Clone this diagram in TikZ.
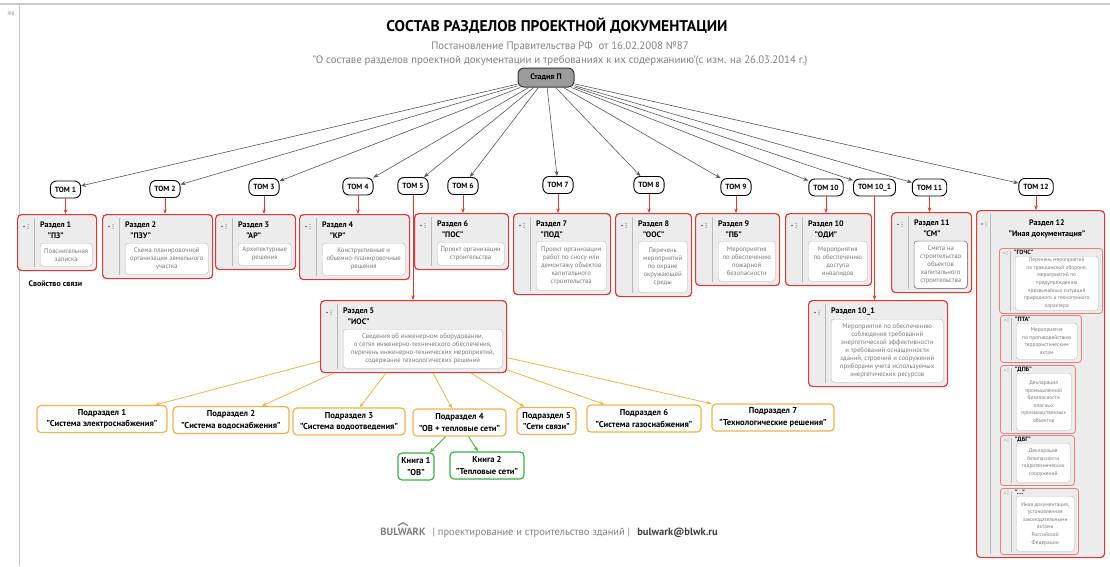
\documentclass[tikz,border=0pt]{standalone}
\usepackage{fontspec}
\setmainfont{PT Sans}
\usepackage{tikz}
\usetikzlibrary{arrows.meta, positioning}
\definecolor{razRed}{RGB}{224,54,54}
\definecolor{razFill}{RGB}{236,236,236}
\definecolor{podOrange}{RGB}{242,178,76}
\definecolor{knGreen}{RGB}{56,178,64}
\definecolor{arrGray}{RGB}{85,85,85}
\definecolor{descGray}{RGB}{120,120,120}
\definecolor{stageGray}{RGB}{155,155,155}
\definecolor{frameGray}{RGB}{200,200,200}
\newcommand{\titlefont}{\bfseries\fontsize{15.5}{18}\selectfont}
\newcommand{\decreefont}{\fontsize{10.8}{12}\selectfont}
\newcommand{\tomfont}{\bfseries\fontsize{7.5}{9}\selectfont}
\newcommand{\razfont}{\bfseries\fontsize{8}{10.5}\selectfont}
\newcommand{\descfont}{\fontsize{6.7}{8}\selectfont}
\newcommand{\subfont}{\fontsize{5.4}{7.6}\selectfont}
% section box: name, left, top, width, height, desc offset, title, description
\newcommand{\razdel}[8]{%
  \node[razbox, anchor=north west, minimum width=#4, minimum height=#5] (#1) at (#2,#3) {};
  \draw[divline] ([xshift=17pt,yshift=-4pt]#1.north west) -- ([xshift=17pt,yshift=4pt]#1.south west);
  \fill[icon] ([xshift=7pt,yshift=-12.5pt]#1.north west) circle (0.9pt);
  \foreach \dy in {10.7,12.5,14.3} \fill[icon] ([xshift=11pt,yshift=-\dy]#1.north west) circle (0.5pt);
  \node[raztitle, anchor=north west] (#1t) at ([xshift=23pt,yshift=-8pt]#1.north west) {#7};
  \node[descbox, anchor=north west, minimum width=#4-27, minimum height=#5-#6-4] (#1d)
    at ([xshift=23pt,yshift=-#6]#1.north west) {#8};
}
% sub-box inside section 12: name, left, top, width, height, label, description
\newcommand{\subrazdel}[7]{%
  \node[subbox, anchor=north west, minimum width=#4, minimum height=#5] (#1) at (#2,#3) {};
  \draw[divline] ([xshift=11pt,yshift=-3pt]#1.north west) -- ([xshift=11pt,yshift=3pt]#1.south west);
  \fill[icon] ([xshift=5pt,yshift=-5pt]#1.north west) circle (0.7pt);
  \foreach \dy in {3.8,5,6.2} \fill[icon] ([xshift=8pt,yshift=-\dy]#1.north west) circle (0.4pt);
  \node[subtitle, anchor=base west] (#1t) at ([xshift=15pt,yshift=-6.5pt]#1.north west) {#6};
  \node[subdesc, anchor=north west, minimum width=#4-20, minimum height=#5-11] (#1d)
    at ([xshift=16pt,yshift=-8pt]#1.north west) {#7};
}

\begin{document}
\begin{tikzpicture}[x=1pt, y=-1pt,
    stagebox/.style={draw=black!80, line width=1pt, fill=stageGray, rounded corners=6pt,
      minimum width=56pt, minimum height=19pt, font=\razfont},
    tombox/.style={draw=black, line width=0.9pt, fill=white, rounded corners=6pt,
      minimum height=17pt, inner xsep=4.5pt, inner ysep=1pt, font=\tomfont},
    razbox/.style={draw=razRed, line width=1.2pt, fill=razFill, rounded corners=4pt, inner sep=0pt},
    subbox/.style={draw=razRed!65, line width=0.8pt, fill=razFill, rounded corners=3pt, inner sep=0pt},
    raztitle/.style={font=\razfont, align=center, inner sep=0pt},
    subtitle/.style={font=\bfseries\fontsize{6.2}{7}\selectfont, inner sep=0pt},
    descbox/.style={draw=gray!55, fill=white, rounded corners=3pt, font=\descfont,
      text=descGray, align=center, inner sep=1pt},
    subdesc/.style={draw=gray!55, fill=white, rounded corners=2.5pt, font=\subfont,
      text=descGray, align=center, inner sep=1pt},
    divline/.style={draw=gray!55, line width=0.6pt},
    icon/.style={fill=black!65},
    podbox/.style={draw=podOrange, line width=1.2pt, fill=white, rounded corners=4pt,
      align=center, minimum height=27pt, inner xsep=2pt, font=\bfseries\fontsize{8.6}{11.5}\selectfont},
    knbox/.style={podbox, draw=knGreen},
    stagearrow/.style={draw=arrGray, line width=0.6pt, -{Stealth[length=5pt,width=4pt]}},
    redarrow/.style={draw=razRed, line width=0.7pt, -{Stealth[length=4.5pt,width=3.5pt]}},
    orangearrow/.style={draw=podOrange, line width=0.8pt, -{Stealth[length=5pt,width=4pt]}},
    greenarrow/.style={draw=knGreen, line width=0.8pt, -{Stealth[length=5pt,width=4pt]}}
  ]
  \useasboundingbox (0,0) rectangle (1110,566);
  % frame
  \draw[frameGray, line width=1.5pt] (0,4) -- (1110,4);
  \draw[frameGray, line width=0.8pt] (19,4) -- (19,566);
  \node[font=\fontsize{5}{6}\selectfont, text=gray] (jpg) at (11,13) {jpg};

  % heading
  \node[font=\titlefont, anchor=base] (title) at (557,31) {СОСТАВ РАЗДЕЛОВ ПРОЕКТНОЙ ДОКУМЕНТАЦИИ};
  \node[font=\decreefont, text=gray, anchor=base] (decree) at (560,49.5)
    {Постановление Правительства РФ\ \ от 16.02.2008 №87};
  \node[font=\decreefont, text=gray, anchor=base] (decreename) at (560,63.5)
    {"О составе разделов проектной документации и требованиях к их содержаниию'(с изм. на 26.03.2014 г.)};

  \node[stagebox] (stage) at (546,77.5) {Стадия П};

  % volumes
  \node[tombox] (tom1) at (65.5,189.5) {ТОМ 1};
  \node[tombox] (tom2) at (165,189) {ТОМ 2};
  \node[tombox] (tom3) at (264,187) {ТОМ 3};
  \node[tombox] (tom4) at (358,186.5) {ТОМ 4};
  \node[tombox] (tom5) at (413,186) {ТОМ 5};
  \node[tombox] (tom6) at (463,186) {ТОМ 6};
  \node[tombox] (tom7) at (558,185) {ТОМ 7};
  \node[tombox] (tom8) at (649,185) {ТОМ 8};
  \node[tombox] (tom9) at (736,187) {ТОМ 9};
  \node[tombox] (tom10) at (826,187.5) {ТОМ 10};
  \node[tombox] (tom10a) at (874.5,187.5) {ТОМ 10\_1};
  \node[tombox] (tom11) at (929.5,187.5) {ТОМ 11};
  \node[tombox] (tom12) at (1036,187) {ТОМ 12};

  % sections
  \razdel{raz1}{17}{214}{79}{56}{29}{Раздел 1\\"ПЗ"}{Пояснительная\\записка}
  \razdel{raz2}{102}{214}{110}{64}{29}{Раздел 2\\"ПЗУ"}{Схема планировочной\\организации земельного\\участка}
  \razdel{raz3}{215}{214}{80}{55}{29}{Раздел 3\\"АР"}{Архитектурные\\решения}
  \razdel{raz4}{299}{214}{110}{65}{29}{Раздел 4\\"КР"}{Конструктивные и\\объемно-планировочные\\решения}
  \razdel{raz6}{414}{213}{94}{56}{29}{Раздел 6\\"ПОС"}{Проект организации\\строительства}
  \razdel{raz7}{513}{213}{97}{81}{28}{Раздел 7\\"ПОД"}{Проект организации\\работ по сносу или\\демонтажу объектов\\капитального\\строительства}
  \razdel{raz8}{615}{213}{76}{83}{28}{Раздел 8\\"ООС"}{Перечень\\мероприятий\\по охране\\окружающей\\среды}
  \razdel{raz9}{695}{213}{84}{72}{28}{Раздел 9\\"ПБ"}{Мероприятия\\по обеспечению\\пожарной\\безопасности}
  \razdel{raz10}{785}{213}{86}{72}{28}{Раздел 10\\"ОДИ"}{Мероприятия\\по обеспечению\\доступа\\инвалидов}
  \razdel{raz11}{891}{212}{80}{80}{29}{Раздел 11\\"СМ"}{Смета на\\строительство\\объектов\\капитального\\строительства}
  \razdel{raz5}{320}{300}{186}{72}{29}{Раздел 5\\"ИОС"}{Сведения об инженерном оборудовании,\\о сетях инженерно-технического обеспечения,\\перечень инженерно-технических мероприятий,\\содержание технологических решений}
  \razdel{raz10a}{808}{300}{139}{86}{19}{Раздел 10\_1}{Мероприятия по обеспечению\\соблюдения требований\\энергетической эффективности\\и требований оснащенности\\зданий, строений и сооружений\\приборами учета используемых\\энергетических ресурсов}
  \draw[draw=black!60, rounded corners=3pt] (raz11d.north west) rectangle (raz11d.south east);

  % section 12 with its parts
  \node[razbox, anchor=north west, minimum width=128, minimum height=347] (raz12) at (976,210) {};
  \draw[divline] ([xshift=14pt,yshift=-4pt]raz12.north west) -- ([xshift=14pt,yshift=4pt]raz12.south west);
  \fill[icon] ([xshift=6pt,yshift=-14pt]raz12.north west) circle (0.9pt);
  \foreach \dy in {12.2,14,15.8} \fill[icon] ([xshift=10pt,yshift=-\dy]raz12.north west) circle (0.5pt);
  \node[raztitle, anchor=north] (raz12t) at (1047,220) {Раздел 12\\"Иная документация"};
  \subrazdel{gochs}{999}{248}{103}{65}{"ГОЧС"}{Перечень мероприятий\\по гражданской обороне,\\мероприятий по\\предупреждению\\чрезвычайных ситуаций\\природного и техногенного\\характера}
  \subrazdel{pta}{1000}{315}{81}{47}{"ПТА"}{Мероприятия\\по противодействию\\террористическим\\актам}
  \subrazdel{dpb}{1000}{365}{75}{68}{"ДПБ"}{Декларация\\промышленной\\безопасности\\опасных\\производственных\\объектов}
  \subrazdel{dbg}{1000}{435}{74}{50}{"ДБГ"}{Декларация\\безопасности\\гидротехнических\\сооружений}
  \subrazdel{inaya}{1000}{488}{78}{66}{"...."}{Иная документация,\\установленная\\законодательными\\актами\\Российской\\Федерации}

  \node[font=\razfont, anchor=base west] (svyaz) at (25,286.5) {Свойство связи};

  % subsections and books
  \node[podbox, minimum width=130] (pod1) at (102,419) {Подраздел 1\\"Система электроснабжения"};
  \node[podbox, minimum width=116] (pod2) at (231,420) {Подраздел 2\\"Система водоснабжения"};
  \node[podbox, minimum width=112] (pod3) at (349,421.5) {Подраздел 3\\"Система водоотведения"};
  \node[podbox, minimum width=93] (pod4) at (459.5,422.5) {Подраздел 4\\"ОВ + тепловые сети"};
  \node[podbox, minimum width=59] (pod5) at (546.5,421) {Подраздел 5\\"Сети связи"};
  \node[podbox, minimum width=114] (pod6) at (644,418.5) {Подраздел 6\\"Система газоснабжения"};
  \node[podbox, minimum width=122] (pod7) at (773,417.5) {Подраздел 7\\"Технологические решения"};
  \node[knbox, minimum width=36] (kn1) at (416,466.5) {Книга 1\\"ОВ"};
  \node[knbox, minimum width=74] (kn2) at (487,465.5) {Книга 2\\"Тепловые сети"};

  % connectors
  \foreach \t in {1,2,3,4,5,6,7,8,9,10,10a,11,12}
    \draw[stagearrow] (stage) -- (tom\t);
  \foreach \t in {1,2,3,4,5,6,7,8,9,10,10a,11,12}
    \draw[redarrow] (tom\t.south) -- (tom\t.south |- raz\t.north);
  \foreach \p in {1,...,7}
    \draw[orangearrow] (raz5) -- (pod\p);
  \draw[greenarrow] (pod4) -- (kn1);
  \draw[greenarrow] (pod4) -- (kn2);

  % footer
  \node[font=\bfseries\fontsize{10.5}{12}\selectfont, text=gray] (brand) at (403,532) {BULWARK};
  \draw[gray, line width=1.2pt] ([xshift=-5pt,yshift=-1pt]brand.north) -- ([yshift=2pt]brand.north)
    -- ([xshift=5pt,yshift=-1pt]brand.north);
  \node[font=\fontsize{10.5}{12}\selectfont, text=gray, base right=0pt of brand] (slogan)
    {|\ проектирование и строительство зданий\ |};
  \node[font=\bfseries\fontsize{10.5}{12}\selectfont, text=black!75, base right=0pt of slogan] (mail)
    {bulwark@blwk.ru};
\end{tikzpicture}
\end{document}
